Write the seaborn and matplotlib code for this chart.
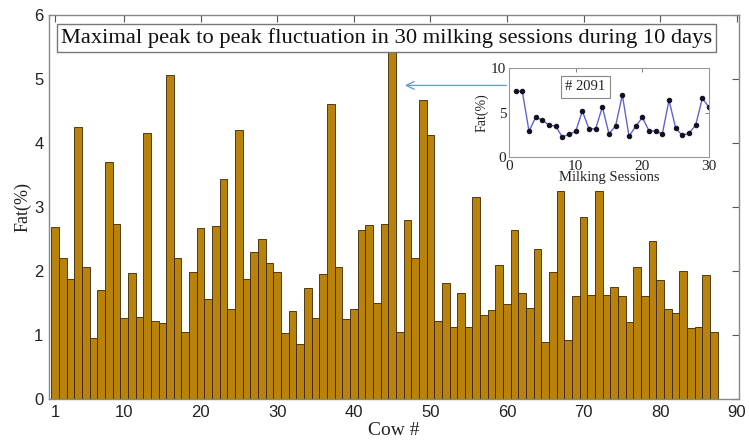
import numpy as np
import pandas as pd
import matplotlib
matplotlib.use("Agg")
import matplotlib.pyplot as plt
import seaborn as sns

# ---- data ----
cows = list(range(1, 88))
fat_fluct = [2.68, 2.21, 1.87, 4.25, 2.06, 0.96, 1.70, 3.70, 2.73, 1.27,
             1.97, 1.28, 4.16, 1.22, 1.19, 5.06, 2.21, 1.05, 1.98, 2.67,
             1.57, 2.71, 3.43, 1.40, 4.20, 1.88, 2.30, 2.50, 2.13, 1.98,
             1.03, 1.37, 0.86, 1.74, 1.27, 1.95, 4.61, 2.07, 1.25, 1.41,
             2.64, 2.72, 1.50, 2.74, 5.45, 1.05, 2.80, 2.21, 4.67, 4.13,
             1.22, 1.82, 1.13, 1.66, 1.13, 3.15, 1.31, 1.39, 2.09, 1.48,
             2.64, 1.65, 1.42, 2.35, 0.89, 1.99, 3.25, 0.92, 1.61, 2.84,
             1.63, 3.25, 1.63, 1.75, 1.61, 1.20, 2.07, 1.61, 2.47, 1.86,
             1.41, 1.34, 2.00, 1.11, 1.12, 1.94, 1.04]
sessions = list(range(1, 31))
fat_2091 = [7.43, 7.36, 2.90, 4.45, 4.15, 3.58, 3.47, 2.23, 2.57, 2.87,
            5.17, 3.17, 3.17, 5.62, 2.60, 3.51, 6.98, 2.34, 3.43, 4.45,
            2.94, 2.90, 2.60, 6.38, 3.25, 2.42, 2.68, 3.58, 6.60, 5.58]
x_ticks = [1, 10, 20, 30, 40, 50, 60, 70, 80, 90]
y_ticks = [0, 1, 2, 3, 4, 5, 6]
title_text = "Maximal peak to peak fluctuation in 30 milking sessions during 10 days"
inset_label = "# 2091"

sns.set_style("white")
plt.rcParams['font.family'] = ['Liberation Sans', 'DejaVu Sans']
serif = ['Liberation Serif', 'DejaVu Serif']

fig = plt.figure(figsize=(7.49, 4.45), dpi=100)
ax = fig.add_axes([49/749, 46/445, 690/749, 384/445])

df = pd.DataFrame({"cow": cows, "fat": fat_fluct})
sns.barplot(data=df, x="cow", y="fat", native_scale=True, width=1.0,
            color="#B8820C", saturation=1, edgecolor="#3a2600",
            linewidth=0.6, ax=ax, zorder=2)

ax.set_xlim(0.2, 90.3)
ax.set_ylim(0, 6)
ax.set_xticks(x_ticks)
ax.set_xticklabels([str(t) for t in x_ticks])
ax.set_yticks(y_ticks)
ax.set_yticklabels([str(t) for t in y_ticks])
ax.tick_params(direction="in", length=5, width=0.8, top=True, right=True,
               labelsize=12, colors="#555555", labelcolor="#222222", pad=4)
for s in ax.spines.values():
    s.set_color("#888888")
    s.set_linewidth(1.0)
ax.set_xlabel("Cow #", family=serif, fontsize=14, color="#222222", labelpad=2)
ax.set_ylabel("Fat(%)", family=serif, fontsize=13, color="#222222", labelpad=2)

# title box
ax.text(0.489, 0.94, title_text, transform=ax.transAxes, ha="center", va="center",
        family=serif, fontsize=16.2, color="#111111", zorder=10,
        bbox=dict(boxstyle="square,pad=0.18", facecolor="white",
                  edgecolor="#777777", linewidth=1.0))

# arrow from inset to the tallest bar
ax.annotate("", xy=(46.3, 4.9), xytext=(60.3, 4.9), xycoords="data",
            arrowprops=dict(arrowstyle="->", color="#6f9fd0", lw=1.0,
                            mutation_scale=14), zorder=9)

# inset
ins = fig.add_axes([509/749, 288/445, 200/749, 89/445])
ins.set_facecolor("white")
sns.lineplot(x=sessions, y=fat_2091, ax=ins, color="#6262d6", lw=1.0,
             marker="o", markersize=3.2, markerfacecolor="#111122",
             markeredgecolor="#111122")
ins.set_xlim(0, 30)
ins.set_ylim(0, 10)
ins.set_xticks([0, 10, 20, 30])
ins.set_yticks([0, 5, 10])
ins.tick_params(direction="in", length=3, width=0.6, top=True, right=True,
                labelsize=11, pad=2, colors="#666666", labelcolor="#222222")
for lab in ins.get_xticklabels() + ins.get_yticklabels():
    lab.set_family(serif)
for s in ins.spines.values():
    s.set_color("#999999")
    s.set_linewidth(0.8)
ins.set_xlabel("Milking Sessions", family=serif, fontsize=10.5, labelpad=-1,
               color="#222222")
ins.set_ylabel("Fat(%)", family=serif, fontsize=10, labelpad=2, color="#222222")
ins.text(0.38, 0.79, inset_label, transform=ins.transAxes, ha="center",
         va="center", family=serif, fontsize=10.5, color="#222222",
         bbox=dict(boxstyle="square,pad=0.3", facecolor="white",
                   edgecolor="#888888", linewidth=0.8))

fig.savefig("out.png", dpi=100)
